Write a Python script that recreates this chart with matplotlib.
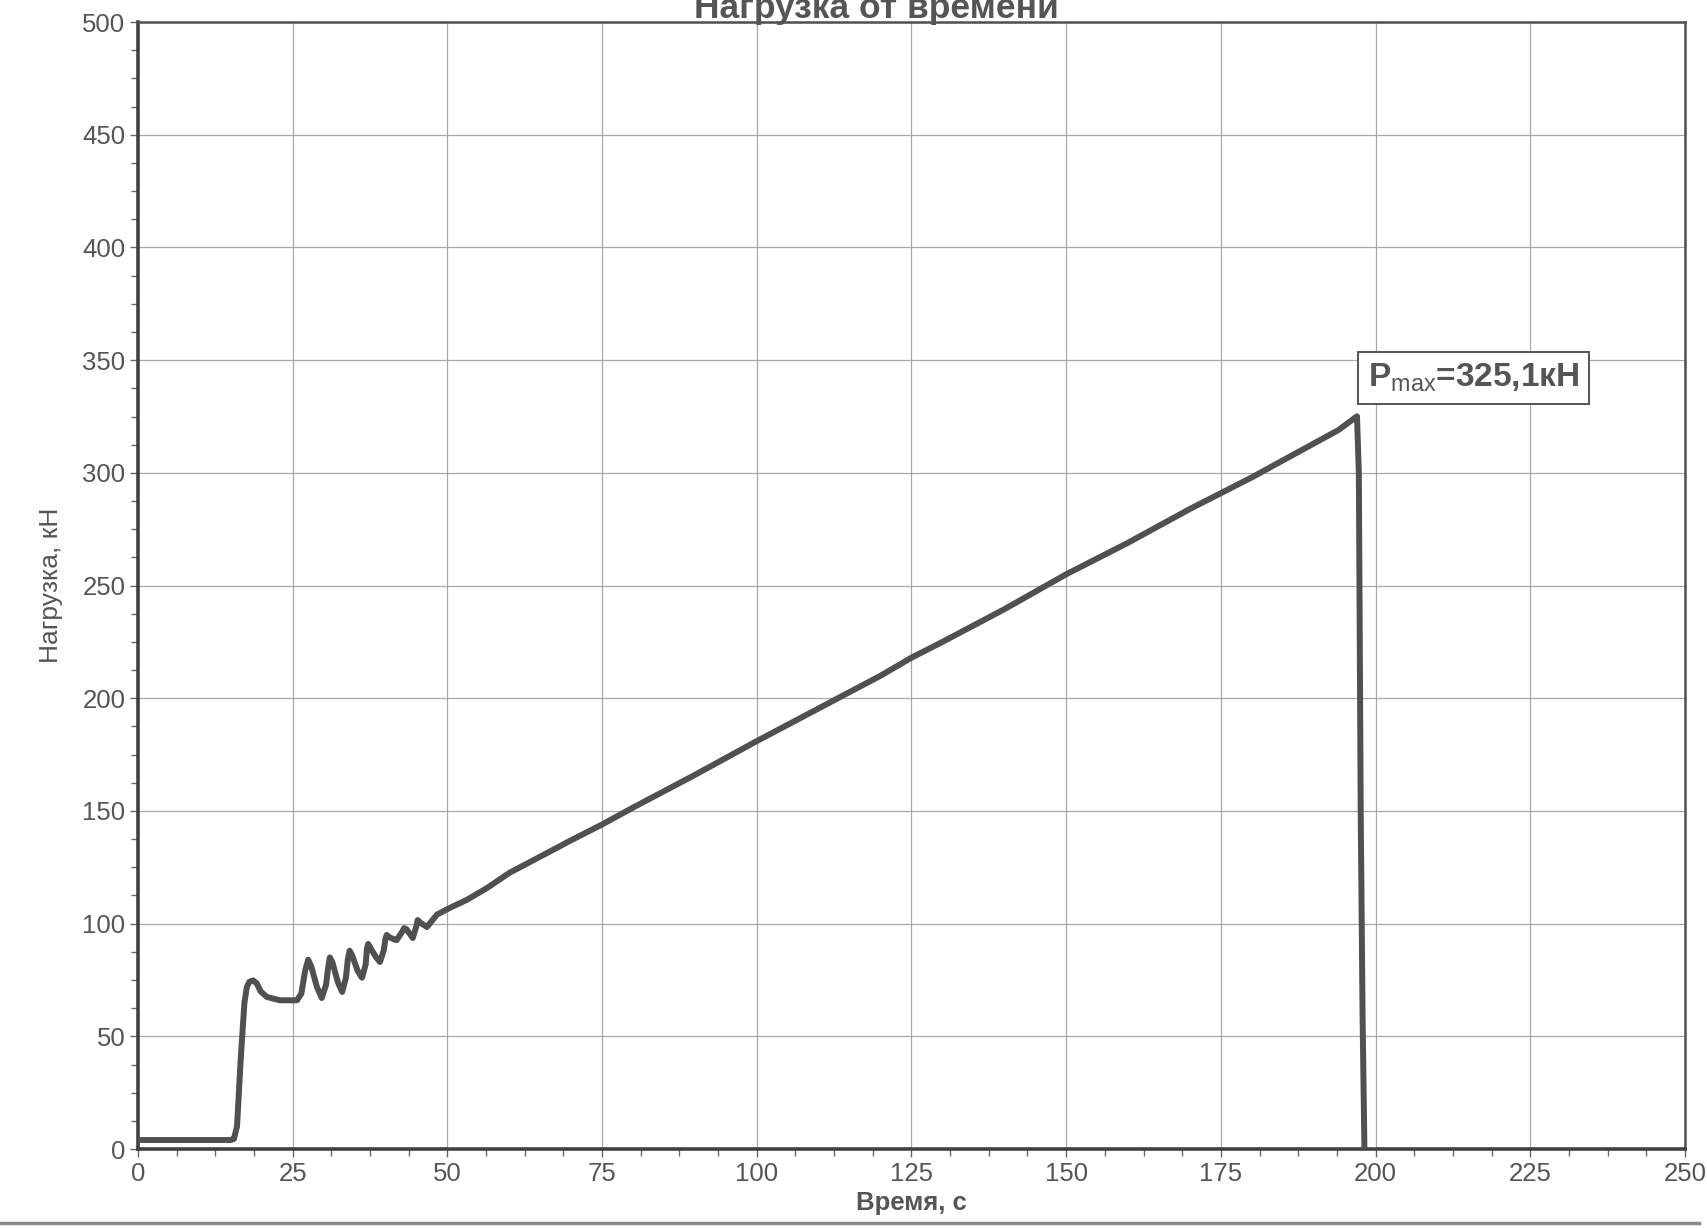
import matplotlib
matplotlib.use('Agg')
import matplotlib.pyplot as plt
from matplotlib.ticker import MultipleLocator
from matplotlib.lines import Line2D

plt.rcParams['font.family'] = ['Liberation Sans', 'DejaVu Sans']
plt.rcParams['mathtext.fontset'] = 'custom'
plt.rcParams['mathtext.rm'] = 'Liberation Sans'

# Load curve of the test (time in s, load in kN)
time_s = [0, 15.0, 15.5, 16.0, 16.6, 17.2, 17.6, 18.0, 18.6, 19.2, 19.8,
          20.8, 22.9, 25.7,
          26.4, 27.0, 27.5, 28.0, 28.9, 29.7, 30.4,
          30.7, 31.0, 31.4, 32.3, 33.0, 33.6,
          33.9, 34.2, 34.6, 35.5, 36.2, 36.8,
          37.0, 37.2, 37.6, 38.5, 39.1, 39.7,
          40.0, 40.2, 40.6, 41.4, 41.8, 42.6,
          43.0, 43.4, 44.4, 45.0, 45.2, 45.6, 46.7,
          48.3, 50.4, 53.1, 56.4, 60, 70, 75, 80, 90, 100,
          110, 120, 125, 130, 140, 150, 160, 170, 175, 180, 190, 194,
          197.0, 197.3, 197.6, 197.9, 198.2]
load_kn = [4, 4, 4.5, 10, 40, 65, 72, 74.2, 74.8, 73.5, 70,
           67.5, 66, 66,
           69, 79, 84, 81, 72, 67, 73,
           80, 85, 83, 74, 69.7, 76,
           84, 88, 86, 79, 76, 82,
           89, 91, 89, 85, 83, 88,
           93.5, 95, 94, 93, 92.7, 96,
           98, 97.5, 93.6, 99, 101.6, 100.5, 98.5,
           104, 107, 110.5, 115.8, 122.5, 137, 144, 151.5, 166, 181,
           195.5, 210, 218, 225, 239.5, 255, 269, 284, 291, 298, 313, 319,
           325.1, 300, 150, 60, 0]

p_max = 325.1
t_max = 197.0

x_ticks = [0, 25, 50, 75, 100, 125, 150, 175, 200, 225, 250]
y_ticks = [0, 50, 100, 150, 200, 250, 300, 350, 400, 450, 500]

line_color = '#505050'
text_color = '#555555'

fig = plt.figure(figsize=(17.08, 12.28), dpi=100)
ax = fig.add_axes([0.0808, 0.0643, 0.9057, 0.9177])

ax.plot(time_s, load_kn, color=line_color, linewidth=4.3,
        solid_joinstyle='round', solid_capstyle='butt', zorder=3)

ax.set_xlim(0, 250)
ax.set_ylim(0, 500)
ax.set_xticks(x_ticks)
ax.set_yticks(y_ticks)
ax.xaxis.set_minor_locator(MultipleLocator(6.25))
ax.yaxis.set_minor_locator(MultipleLocator(12.5))
ax.tick_params(which='major', length=6, width=1, color='#666666',
               labelsize=18.5, labelcolor=text_color, pad=3)
ax.tick_params(which='minor', length=5, width=1, color='#666666')
ax.grid(True, which='major', color='#a8a8a8', linewidth=0.9)

for side in ['left', 'bottom']:
    ax.spines[side].set_linewidth(2.6)
    ax.spines[side].set_color('#404040')
for side in ['top', 'right']:
    ax.spines[side].set_linewidth(1.8)
    ax.spines[side].set_color('#505050')

ax.set_xlabel('Время, с', fontsize=18.5, fontweight='bold',
              color=text_color, labelpad=4)
ax.set_ylabel('Нагрузка, кН', fontsize=19, color=text_color, labelpad=14)

fig.text(0.513, 0.9853, 'Нагрузка от времени', ha='center', va='baseline',
         fontsize=25.5, fontweight='bold', color=text_color)

# Maximum load label
ax.text(t_max + 1.7, p_max + 9.8,
        r'P$_{\rm max}$' + '=' + f'{p_max:.1f}'.replace('.', ',') + 'кН',
        fontsize=24, fontweight='bold', color=text_color,
        ha='left', va='bottom', zorder=4,
        bbox=dict(boxstyle='square,pad=0.3', facecolor='white',
                  edgecolor='#555555', linewidth=1.4))

# edge of the printed sheet
fig.add_artist(Line2D([0, 0.995], [0.004, 0.004], color='#8a8a8a',
                      linewidth=2.5))

fig.savefig('out.png', dpi=100)
